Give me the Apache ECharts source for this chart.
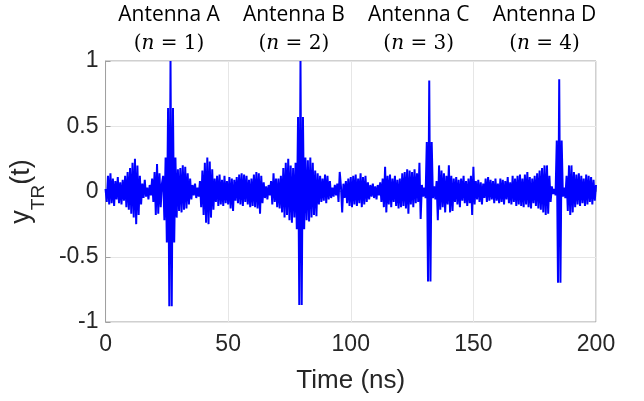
<!DOCTYPE html>
<html>
<head>
<meta charset="utf-8">
<script src="https://cdn.jsdelivr.net/npm/echarts@6/dist/echarts.min.js"></script>
<style>
html,body{margin:0;padding:0;background:#fff;}
#chart{width:644px;height:401px;}
</style>
</head>
<body>
<div id="chart"></div>
<script>
// Sampling of the trace (ns)
var sampleStep = 0.5;
// Signal values, 0.5 ns apart, split by 10 ns segments
var seg000 = [0.02,-0.08,0.12,-0.10,0.14,-0.09,0.10,-0.11,0.08,-0.06,0.11,-0.09,0.07,-0.10,0.09,-0.07,0.12,-0.12,0.15,-0.14];
var seg010 = [0.18,-0.17,0.22,-0.20,0.25,-0.25,0.20,-0.18,0.12,-0.10,0.06,-0.05,0.09,-0.04,0.03,-0.06,0.05,-0.03,0.10,-0.08];
var seg020 = [0.15,-0.18,0.21,-0.17,0.14,-0.12,0.06,0.12,-0.22,0.26,-0.39,0.64,-0.88,1.00,-0.88,0.64,-0.39,0.26,-0.20,0.17];
var seg030 = [-0.15,0.18,-0.16,0.20,-0.14,0.19,-0.13,0.14,-0.10,0.10,-0.06,0.05,-0.03,0.06,-0.05,0.03,-0.04,0.08,-0.12,0.16];
var seg040 = [-0.18,0.22,-0.24,0.26,-0.25,0.23,-0.20,0.17,-0.14,0.10,-0.08,0.12,-0.11,0.13,-0.10,0.09,-0.11,0.12,-0.09,0.08];
var seg050 = [-0.10,0.11,-0.13,0.10,-0.15,0.09,-0.07,0.11,-0.09,0.13,-0.10,0.14,-0.11,0.13,-0.08,0.12,-0.10,0.09,-0.12,0.10];
var seg060 = [-0.11,0.13,-0.12,0.15,-0.13,0.14,-0.17,0.12,-0.09,0.07,-0.05,0.04,-0.06,0.05,-0.03,0.08,-0.10,0.14,-0.08,0.10];
var seg070 = [-0.12,0.10,-0.13,0.12,-0.16,0.18,-0.20,0.22,-0.18,0.25,-0.22,0.20,-0.24,0.18,-0.20,0.22,-0.29,0.57,-0.87,1.00];
var seg080 = [-0.87,0.57,-0.29,0.26,-0.22,0.24,-0.23,0.26,-0.20,0.22,-0.18,0.16,-0.19,0.14,-0.10,0.12,-0.08,0.10,-0.07,0.13];
var seg090 = [-0.09,0.12,-0.06,0.08,-0.05,0.03,-0.04,0.05,-0.03,0.06,-0.08,0.15,0.04,-0.16,0.06,-0.05,0.08,-0.09,0.10,-0.11];
var seg100 = [0.11,-0.12,0.12,-0.10,0.13,-0.11,0.10,-0.09,0.14,-0.12,0.11,-0.10,0.12,-0.08,0.07,-0.06,0.05,-0.04,0.06,-0.05];
var seg110 = [0.04,-0.06,0.05,-0.03,0.07,-0.08,0.10,-0.12,0.19,-0.16,0.12,-0.10,0.13,-0.12,0.10,-0.08,0.12,-0.11,0.09,-0.13];
var seg120 = [0.10,-0.12,0.14,-0.11,0.15,-0.13,0.17,-0.17,0.16,-0.10,0.15,-0.12,0.17,-0.09,0.14,-0.08,0.22,-0.21,0.05,-0.04];
var seg130 = [0.03,-0.05,0.38,-0.69,0.85,-0.69,0.38,-0.05,0.04,-0.06,0.08,-0.22,0.20,-0.14,0.16,-0.12,0.14,-0.16,0.12,-0.10];
var seg140 = [0.20,-0.16,0.12,-0.15,0.10,-0.08,0.11,-0.10,0.09,-0.12,0.10,-0.07,0.12,-0.09,0.08,-0.11,0.10,-0.09,0.12,-0.18];
var seg150 = [0.19,-0.10,0.08,-0.06,0.09,-0.08,0.07,-0.10,0.06,-0.05,0.10,-0.08,0.11,-0.07,0.09,-0.06,0.08,-0.09,0.10,-0.07];
var seg160 = [0.06,-0.09,0.10,-0.08,0.09,-0.10,0.08,-0.06,0.11,-0.09,0.07,-0.10,0.12,-0.08,0.10,-0.11,0.12,-0.10,0.13,-0.11];
var seg170 = [0.10,-0.12,0.13,-0.10,0.15,-0.12,0.11,-0.13,0.10,-0.09,0.12,-0.11,0.14,-0.13,0.16,-0.14,0.18,-0.16,0.20,-0.18];
var seg180 = [0.20,-0.17,0.12,-0.08,0.04,-0.02,0.02,-0.03,0.39,-0.70,0.86,-0.70,0.39,-0.04,0.03,-0.05,0.12,-0.15,0.20,-0.18];
var seg190 = [0.20,-0.16,0.15,-0.12,0.13,-0.10,0.14,-0.11,0.12,-0.09,0.10,-0.11,0.13,-0.10,0.12,-0.08,0.11,-0.10,0.09,-0.07,0.05];

// Axis ticks
var xTicks = [0, 50, 100, 150, 200];
var yTicks = [-1, -0.5, 0, 0.5, 1];

// Annotations above the plot
var antennaNames = ['Antenna A', 'Antenna B', 'Antenna C', 'Antenna D'];
var antennaIndex = ['1', '2', '3', '4'];
var antennaTimes = [25.9, 76.8, 127.7, 179.0];

var values = [].concat(seg000, seg010, seg020, seg030, seg040, seg050, seg060, seg070, seg080, seg090,
  seg100, seg110, seg120, seg130, seg140, seg150, seg160, seg170, seg180, seg190);
var data = values.map(function (v, i) { return [i * sampleStep, v]; });

var chart = echarts.init(document.getElementById('chart'), null, {renderer: 'canvas'});
var axisColor = '#262626';
var lineColor = '#a0a0a0';
var option = {
  animation: false,
  backgroundColor: '#fff',
  grid: {left: 104, right: 48, top: 61, bottom: 79, show: true, borderColor: lineColor, borderWidth: 1},
  xAxis: {
    type: 'value', min: xTicks[0], max: xTicks[xTicks.length - 1], interval: 50,
    name: 'Time (ns)', nameLocation: 'middle', nameGap: 46,
    nameTextStyle: {fontFamily: 'Liberation Sans', fontSize: 26, color: axisColor},
    axisLine: {lineStyle: {color: lineColor, width: 1}},
    axisTick: {inside: true, length: 5, lineStyle: {color: lineColor}},
    axisLabel: {fontFamily: 'Liberation Sans', fontSize: 23, color: axisColor, margin: 11},
    splitLine: {show: true, lineStyle: {color: '#e6e6e6', width: 1}}
  },
  yAxis: {
    type: 'value', min: yTicks[0], max: yTicks[yTicks.length - 1], interval: 0.5,
    name: '{a|y}{s|TR}{a|(t)}', nameLocation: 'middle', nameGap: 48, nameRotate: 90,
    nameTextStyle: {
      color: axisColor,
      rich: {
        a: {fontFamily: 'Liberation Sans', fontSize: 27, color: axisColor, lineHeight: 34, verticalAlign: 'top'},
        s: {fontFamily: 'Liberation Sans', fontSize: 19, color: axisColor, lineHeight: 34, verticalAlign: 'bottom', padding: [0, 0, -6, 0]}
      }
    },
    axisLine: {show: true, lineStyle: {color: lineColor, width: 1}},
    axisTick: {show: true, inside: true, length: 5, lineStyle: {color: lineColor}},
    axisLabel: {fontFamily: 'Liberation Sans', fontSize: 23, color: axisColor, margin: 7},
    splitLine: {show: true, lineStyle: {color: '#e6e6e6', width: 1}}
  },
  series: [{
    type: 'line', data: data, showSymbol: false, symbol: 'none',
    lineStyle: {color: '#0000ff', width: 2}, z: 3
  }]
};
chart.setOption(option);

var g = [];
antennaNames.forEach(function (nm, k) {
  var px = chart.convertToPixel({xAxisIndex: 0}, antennaTimes[k]);
  g.push({
    type: 'text', x: px, y: 5,
    style: {text: nm, fontFamily: 'Open Sans', fontSize: 21, fill: '#000', textAlign: 'center'}
  });
  g.push({
    type: 'text', x: px, y: 34,
    style: {
      text: '{p|(}{n|n}{p| = ' + antennaIndex[k] + ')}',
      textAlign: 'center',
      rich: {
        p: {fontFamily: 'DejaVu Serif', fontSize: 20, fill: '#000'},
        n: {fontFamily: 'DejaVu Serif', fontStyle: 'italic', fontSize: 20, fill: '#000'}
      }
    }
  });
});
chart.setOption({graphic: g});
</script>
</body>
</html>
